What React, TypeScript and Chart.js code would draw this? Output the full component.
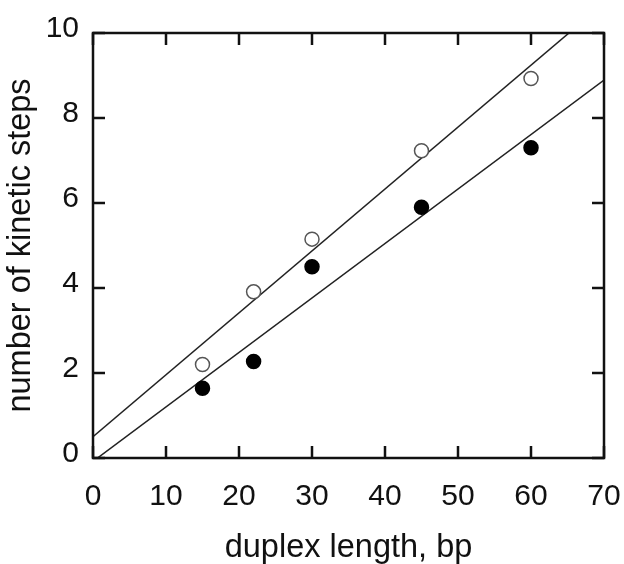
import React, { useEffect, useRef } from "react";
import { Chart, registerables } from "chart.js";

Chart.register(...registerables);

const duplexLength = [15, 22, 30, 45, 60];
const stepsOpen = [2.2, 3.91, 5.15, 7.23, 8.93];
const stepsFilled = [1.64, 2.27, 4.5, 5.9, 7.3];

// fitted lines: endpoints
const fitOpenX = [0, 70];
const fitOpenY = [0.5, 10.7];
const fitFilledX = [0, 70];
const fitFilledY = [-0.08, 8.89];

const xTicks = [0, 10, 20, 30, 40, 50, 60, 70];
const yTicks = [0, 2, 4, 6, 8, 10];

const FONT = '"Liberation Sans", Arial, Helvetica, sans-serif';
const INK = "#111";

const frame = {
  id: "frame",
  afterDraw(chart: any) {
    const { ctx, chartArea } = chart;
    const { left, right, top, bottom } = chartArea;
    const xs = chart.scales.x;
    const ys = chart.scales.y;
    const tl = 12;
    ctx.save();
    ctx.strokeStyle = INK;
    ctx.lineWidth = 2.5;
    ctx.lineCap = "butt";
    ctx.strokeRect(left, top, right - left, bottom - top);
    ctx.beginPath();
    for (const v of xTicks) {
      const px = xs.getPixelForValue(v);
      ctx.moveTo(px, bottom);
      ctx.lineTo(px, bottom - tl);
      ctx.moveTo(px, top);
      ctx.lineTo(px, top + tl);
    }
    for (const v of yTicks) {
      const py = ys.getPixelForValue(v);
      ctx.moveTo(left, py);
      ctx.lineTo(left + tl, py);
      ctx.moveTo(right, py);
      ctx.lineTo(right - tl, py);
    }
    ctx.stroke();
    ctx.restore();
  },
};

export default function App() {
  const ref = useRef<HTMLCanvasElement | null>(null);

  useEffect(() => {
    if (!ref.current) return;
    const chart = new Chart(ref.current, {
      type: "scatter",
      data: {
        datasets: [
          {
            label: "open",
            data: duplexLength.map((x, i) => ({ x, y: stepsOpen[i] })),
            pointRadius: 7,
            pointBorderWidth: 1.5,
            pointBackgroundColor: "#fff",
            pointBorderColor: "#555",
            showLine: false,
            order: 0,
          },
          {
            label: "filled",
            data: duplexLength.map((x, i) => ({ x, y: stepsFilled[i] })),
            pointRadius: 7,
            pointBorderWidth: 1.5,
            pointBackgroundColor: "#000",
            pointBorderColor: "#000",
            showLine: false,
            order: 0,
          },
          {
            label: "fit open",
            type: "line",
            data: fitOpenX.map((x, i) => ({ x, y: fitOpenY[i] })),
            borderColor: "#222",
            borderWidth: 1.5,
            pointRadius: 0,
            fill: false,
            order: 1,
          },
          {
            label: "fit filled",
            type: "line",
            data: fitFilledX.map((x, i) => ({ x, y: fitFilledY[i] })),
            borderColor: "#222",
            borderWidth: 1.5,
            pointRadius: 0,
            fill: false,
            order: 1,
          },
        ] as any,
      },
      options: {
        animation: false,
        responsive: false,
        layout: { padding: { top: 33, right: 20, left: 0, bottom: 0 } },
        plugins: {
          legend: { display: false },
          tooltip: { enabled: false },
        },
        scales: {
          x: {
            type: "linear",
            min: 0,
            max: 70,
            afterBuildTicks: (s: any) => {
              s.ticks = xTicks.map((v) => ({ value: v }));
            },
            afterFit: (s: any) => {
              s.height = 106;
              s.paddingLeft = 0;
              s.paddingRight = 0;
            },
            grid: { display: false, drawTicks: false },
            border: { display: false },
            ticks: {
              padding: 21,
              color: INK,
              font: { family: FONT, size: 30 },
              maxRotation: 0,
            },
            title: {
              display: true,
              text: "duplex length, bp",
              color: INK,
              font: { family: FONT, size: 32.5, lineHeight: 1 },
              padding: 0,
            },
          },
          y: {
            type: "linear",
            min: 0,
            max: 10,
            afterBuildTicks: (s: any) => {
              s.ticks = yTicks.map((v) => ({ value: v }));
            },
            afterFit: (s: any) => {
              s.width = 93;
              s.paddingTop = 0;
              s.paddingBottom = 0;
            },
            grid: { display: false, drawTicks: false },
            border: { display: false },
            ticks: {
              padding: 14,
              labelOffset: -4,
              color: INK,
              font: { family: FONT, size: 30 },
            },
            title: {
              display: true,
              text: "number of kinetic steps",
              color: INK,
              font: { family: FONT, size: 32.5, lineHeight: 1 },
              padding: 5,
            },
          },
        },
      },
      plugins: [frame],
    });
    return () => chart.destroy();
  }, []);

  return (
    <div style={{ position: "absolute", left: 0, top: 0, width: 624, height: 564, background: "#fff" }}>
      <canvas ref={ref} width={624} height={564} style={{ display: "block" }} />
    </div>
  );
}
